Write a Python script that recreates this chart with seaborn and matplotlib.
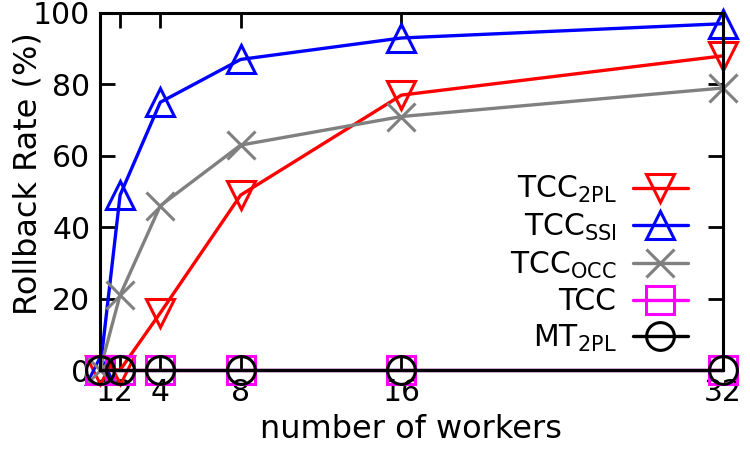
import matplotlib
matplotlib.use("Agg")
import matplotlib.pyplot as plt
import matplotlib.transforms as mtransforms
import pandas as pd
import seaborn as sns

# =================== Data ===================
workers = [1, 2, 4, 8, 16, 32]
tcc_2pl = [0, 0, 16, 49, 77, 88]
tcc_ssi = [0, 49, 75, 87, 93, 97]
tcc_occ = [0, 21, 46, 63, 71, 79]
tcc = [0, 0, 0, 0, 0, 0]
mt_2pl = [0, 0, 0, 0, 0, 0]

series_names = ["TCC$_{2PL}$", "TCC$_{SSI}$", "TCC$_{OCC}$", "TCC", "MT$_{2PL}$"]
series_values = [tcc_2pl, tcc_ssi, tcc_occ, tcc, mt_2pl]
series_colors = ["#ff0000", "#0000ff", "#808080", "#ff00ff", "#000000"]
series_markers = ["v", "^", "x", "s", "o"]

x_ticks = [1, 2, 4, 8, 16, 32]
y_ticks = [0, 20, 40, 60, 80, 100]

# =================== Style ===================
sns.set_style("ticks")
plt.rcParams["font.family"] = ["DejaVu Sans"]
plt.rcParams["mathtext.default"] = "regular"
plt.rcParams["xtick.direction"] = "in"
plt.rcParams["ytick.direction"] = "in"
plt.rcParams["xtick.top"] = True
plt.rcParams["ytick.right"] = True
plt.rcParams["text.color"] = "black"
plt.rcParams["axes.labelcolor"] = "black"
plt.rcParams["xtick.color"] = "black"
plt.rcParams["ytick.color"] = "black"

rows = []
for name, vals in zip(series_names, series_values):
    for w, v in zip(workers, vals):
        rows.append({"workers": w, "rate": v, "series": name})
df = pd.DataFrame(rows)

fig = plt.figure(figsize=(7.5, 4.5), dpi=100)
ax = fig.add_axes([100 / 750, 1 - 370 / 450, 623 / 750, 357 / 450])

for name, color, marker in zip(series_names, series_colors, series_markers):
    sub = df[df["series"] == name]
    sns.lineplot(data=sub, x="workers", y="rate", ax=ax, color=color,
                 marker=marker, markersize=20, markerfacecolor="none",
                 markeredgecolor=color, markeredgewidth=2.2, linewidth=2.4,
                 label=name, clip_on=False)

ax.set_xlim(1, 32)
ax.set_ylim(0, 100)
ax.set_xticks(x_ticks)
ax.set_xticklabels([str(t) for t in x_ticks])
ax.set_yticks(y_ticks)
ax.tick_params(axis="both", labelsize=21.5, length=11, width=2,
               colors="black", labelcolor="black")
ax.tick_params(axis="x", pad=6)
ax.tick_params(axis="y", pad=7)
for sp in ax.spines.values():
    sp.set_linewidth(2.2)
    sp.set_color("black")

# nudge the crowded "1" and "2" labels apart a little
for lbl, dx in zip(ax.get_xticklabels()[:2], [5, 3]):
    lbl.set_transform(lbl.get_transform() +
                      mtransforms.ScaledTranslation(dx / 100, 0, fig.dpi_scale_trans))

ax.set_xlabel("number of workers", fontsize=23, labelpad=5, color="black")
ax.set_ylabel("Rollback Rate (%)", fontsize=23, color="black")
ax.yaxis.set_label_coords(-0.09, 0.55)

leg = ax.legend(loc="lower right", bbox_to_anchor=(0.944, 0.045), frameon=False,
                markerfirst=False, fontsize=21.5, handlelength=1.85,
                handletextpad=0.55, labelspacing=0.22, borderpad=0,
                borderaxespad=0)
for t in leg.get_texts():
    t.set_color("black")

fig.savefig("out.png", dpi=100)
